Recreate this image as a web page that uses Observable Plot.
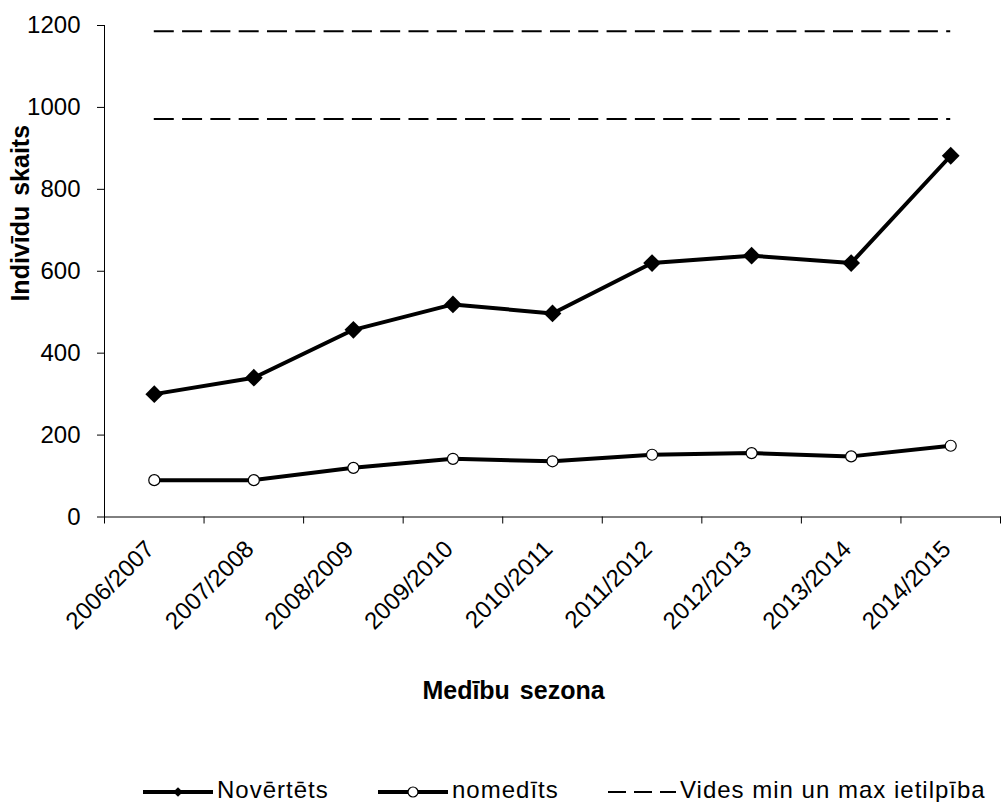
<!DOCTYPE html>
<html>
<head>
<meta charset="utf-8">
<script src="https://cdn.jsdelivr.net/npm/d3@7"></script>
<script src="https://cdn.jsdelivr.net/npm/@observablehq/plot@0.6"></script>
<style>
  body { margin: 0; background: #fff; }
  #chart { width: 1003px; font-family: "Liberation Sans", Arial, sans-serif; color: #000; }
  #chart svg { display: block; }
</style>
</head>
<body>
<div id="chart"></div>
<script>
// Hunting seasons on the x axis
const seasons = ["2006/2007", "2007/2008", "2008/2009", "2009/2010", "2010/2011",
                 "2011/2012", "2012/2013", "2013/2014", "2014/2015"];
// Estimated population (Novērtēts)
const estimated = [300, 340, 457, 519, 497, 620, 638, 620, 882];
// Harvested animals (nomedīts)
const harvested = [90, 90, 120, 142, 136, 152, 156, 148, 174];
// Environmental carrying capacity, min and max
const capacity = [972, 1186];
const yTicks = [0, 200, 400, 600, 800, 1000, 1200];
const seriesNames = ["Novērtēts", "nomedīts", "Vides min un max ietilpība"];
const xTitle = "Medību sezona";
const yTitle = "Indivīdu skaits";

const FONT = '"Liberation Sans", Arial, sans-serif';

// each season sits in the middle of its slot on a 0..n linear scale
const toRows = vals => vals.map((v, i) => ({pos: i + 0.5, season: seasons[i], value: v}));
const est = toRows(estimated);
const harv = toRows(harvested);
const firstPos = est[0].pos;
const lastPos = est[est.length - 1].pos;

const plot = Plot.plot({
  width: 1003,
  height: 758,
  marginLeft: 104,
  marginRight: 3,
  marginTop: 25,
  marginBottom: 241.5,
  style: {fontFamily: FONT, fontSize: "24px", color: "#000", background: "#fff", overflow: "visible"},
  x: {domain: [0, seasons.length]},
  y: {domain: [0, 1200]},
  marks: [
    Plot.ruleY(capacity, {x1: firstPos, x2: lastPos, stroke: "#000", strokeWidth: 2, strokeDasharray: "20,8.3"}),
    Plot.frame({anchor: "left", stroke: "#000"}),
    Plot.frame({anchor: "bottom", stroke: "#000"}),
    Plot.axisY({ticks: yTicks, tickSize: 7, tickPadding: 17, tickFormat: d => String(d), label: null, stroke: "#000"}),
    // slot boundary ticks
    Plot.axisX({ticks: d3.range(0, seasons.length + 1), tickSize: 7, tickFormat: () => "", label: null, stroke: "#000"}),
    // season labels, centred on each slot
    Plot.axisX({ticks: est.map(d => d.pos), tickSize: 0, tickPadding: 28, tickRotate: -45, dx: -4,
                tickFormat: v => seasons[Math.floor(v)], label: null}),
    Plot.text([xTitle], {text: d => d, frameAnchor: "bottom", textAnchor: "middle", lineAnchor: "middle",
                         dx: -39, dy: 174, fontWeight: "bold", fontSize: 25, fill: "#000"}),
    Plot.text([yTitle], {text: d => d, frameAnchor: "left", textAnchor: "middle", lineAnchor: "middle",
                         rotate: -90, dx: -84, dy: -58, fontWeight: "bold", fontSize: 25, fill: "#000"}),
    Plot.line(harv, {x: "pos", y: "value", stroke: "#000", strokeWidth: 4}),
    Plot.dot(harv, {x: "pos", y: "value", r: 5.5, fill: "#fff", stroke: "#000", strokeWidth: 1.2}),
    Plot.line(est, {x: "pos", y: "value", stroke: "#000", strokeWidth: 4}),
    Plot.dot(est, {x: "pos", y: "value", symbol: "diamond2", r: 8, fill: "#000", stroke: "none"})
  ]
});

const chart = document.getElementById("chart");
chart.appendChild(plot);
plot.querySelectorAll("text").forEach(t => t.style.wordSpacing = "3px");

// legend row below the chart
const legend = d3.create("svg")
  .attr("width", 1003)
  .attr("height", 44)
  .style("display", "block")
  .style("font-family", FONT)
  .style("font-size", "24px");

const lineY = 34, textY = 40;
const items = [
  {x0: 143, x1: 213, tx: 217, kind: "diamond"},
  {x0: 378, x1: 448, tx: 452, kind: "circle"},
  {x0: 608, x1: 676, tx: 680, kind: "dash"}
];
items.forEach((it, i) => {
  const g = legend.append("g");
  const ln = g.append("line")
    .attr("x1", it.x0).attr("x2", it.x1).attr("y1", lineY).attr("y2", lineY)
    .attr("stroke", "#000");
  const cx = (it.x0 + it.x1) / 2;
  if (it.kind === "dash") {
    ln.attr("stroke-width", 2).attr("stroke-dasharray", "18,8");
  } else {
    ln.attr("stroke-width", 4);
  }
  if (it.kind === "diamond") {
    g.append("path").attr("d", d3.symbol(d3.symbolDiamond2, 60)())
      .attr("transform", `translate(${cx},${lineY})`).attr("fill", "#000");
  } else if (it.kind === "circle") {
    g.append("circle").attr("cx", cx).attr("cy", lineY).attr("r", 5)
      .attr("fill", "#fff").attr("stroke", "#000").attr("stroke-width", 1.2);
  }
  g.append("text").attr("x", it.tx).attr("y", textY)
    .attr("fill", "#000").style("letter-spacing", "1px")
    .text(seriesNames[i]);
});
chart.appendChild(legend.node());
</script>
</body>
</html>
